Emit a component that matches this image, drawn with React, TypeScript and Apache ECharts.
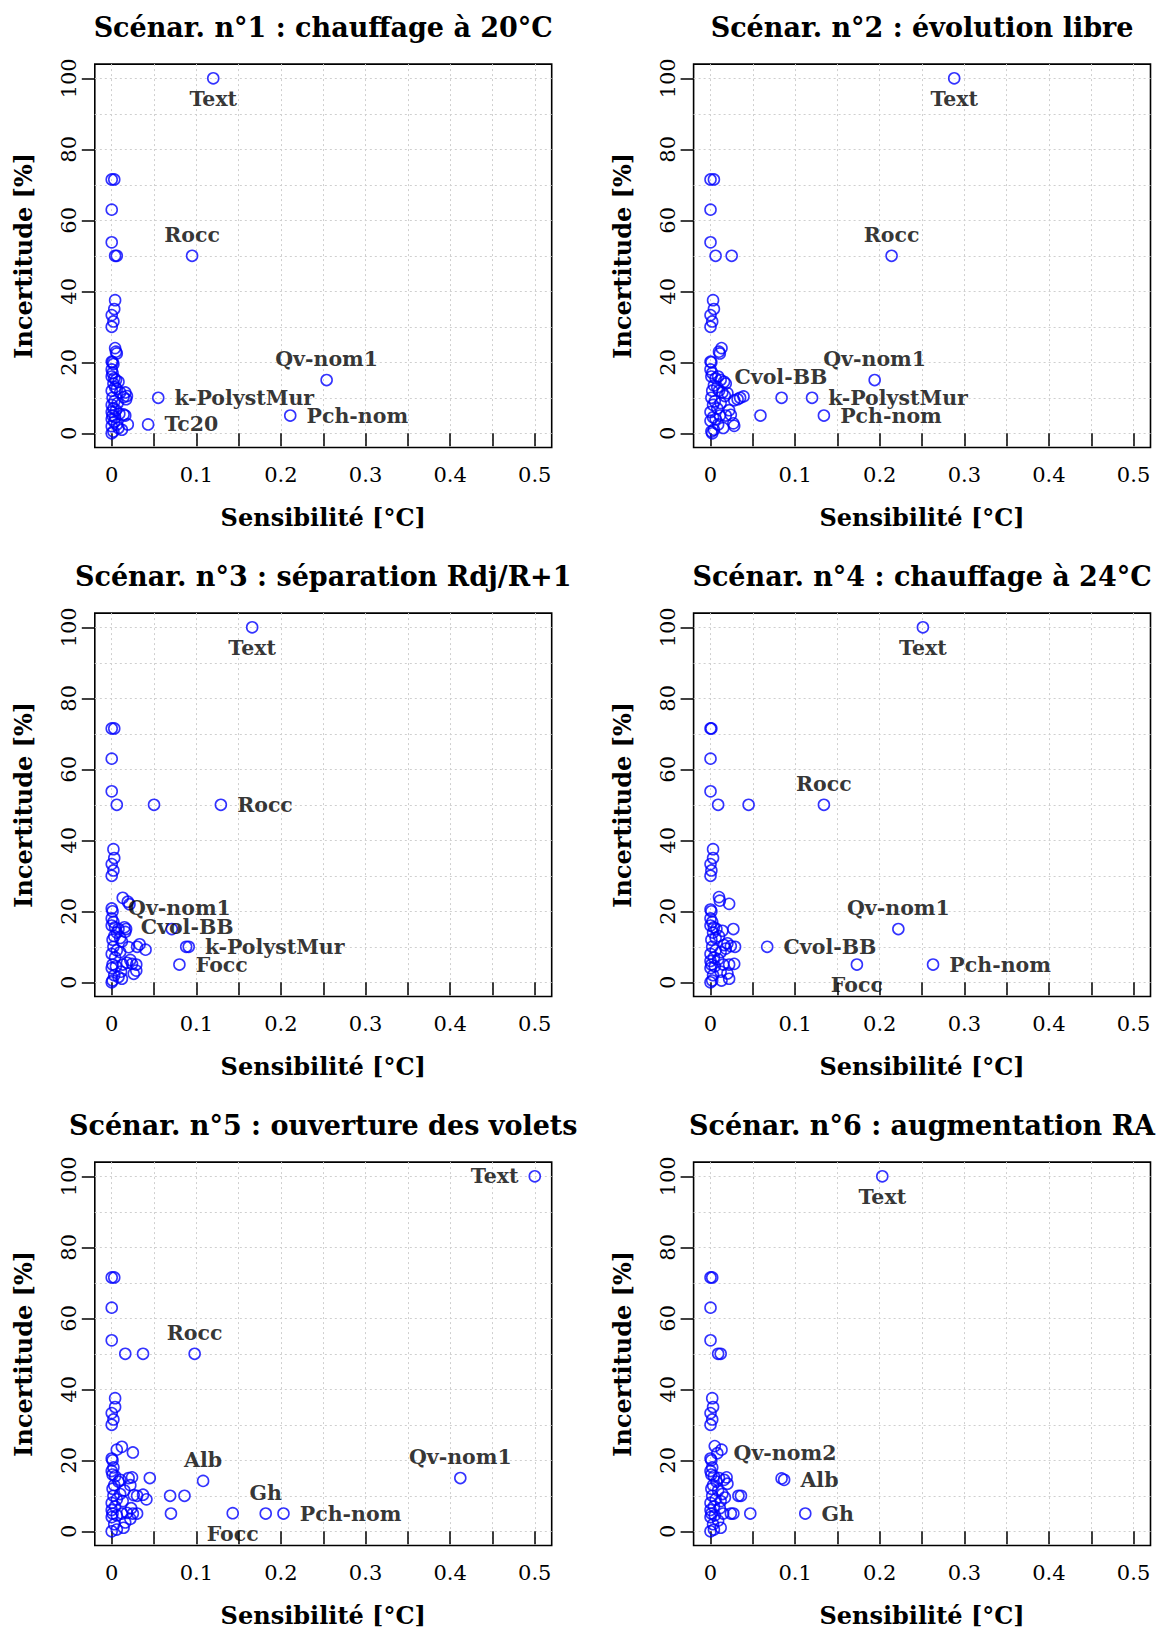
import React, { useEffect, useRef } from "react";
import * as echarts from "echarts";

// ---------- texts ----------
const titles = [
  "Scénar. n°1 : chauffage à 20°C",
  "Scénar. n°2 : évolution libre",
  "Scénar. n°3 : séparation Rdj/R+1",
  "Scénar. n°4 : chauffage à 24°C",
  "Scénar. n°5 : ouverture des volets",
  "Scénar. n°6 : augmentation RA",
];
const xAxisTitle = "Sensibilité [°C]";
const yAxisTitle = "Incertitude [%]";

// ---------- ticks ----------
const xTickValues = [0, 0.05, 0.1, 0.15, 0.2, 0.25, 0.3, 0.35, 0.4, 0.45, 0.5];
const xLabelValues = [0, 0.1, 0.2, 0.3, 0.4, 0.5];
const yTickValues = [0, 20, 40, 60, 80, 100];
const yGridValues = [0, 10, 20, 30, 40, 50, 60, 70, 80, 90, 100];

// ---------- data (sensibilité, incertitude) ----------
const s1Points: [number, number][] = [
  [0.0, 71.5], [0.003, 71.5], [0.0, 63], [0.0, 53.8], [0.004, 50], [0.006, 50],
  [0.004, 37.5], [0.003, 35], [0.0, 33.3], [0.002, 31.5], [0.0, 30],
  [0.004, 24], [0.005, 23], [0.006, 22.5],
  [0.0, 20.2], [0.001, 20], [0.002, 19.5], [0.0, 18], [0.001, 17], [0.0, 16],
  [0.003, 15.5], [0.005, 15], [0.008, 14.5], [0.002, 14], [0.004, 13], [0.006, 12.5],
  [0.0, 12], [0.01, 11.5], [0.016, 11.5], [0.018, 10.5], [0.014, 10.2], [0.017, 9.6],
  [0.001, 10], [0.003, 9], [0.007, 8.5], [0.0, 8], [0.002, 7], [0.005, 6.5], [0.0, 6],
  [0.009, 5.5], [0.014, 5.3], [0.016, 5], [0.001, 5], [0.004, 4.5], [0.0, 4],
  [0.003, 3.2], [0.006, 2.5], [0.019, 2.5], [0.0, 2], [0.008, 1.5], [0.012, 1],
  [0.002, 0.5], [0.0, 0],
];
const s1Names = ["Text", "Rocc", "Qv-nom1", "k-PolystMur", "Pch-nom", "Tc20"];
const s1NamedX = [0.12, 0.095, 0.254, 0.055, 0.211, 0.043];
const s1NamedY = [100, 50, 15, 10, 5, 2.5];
const s1LabelPos = ["bottom", "top", "top", "right", "right", "right"];

const s2Points: [number, number][] = [
  [0.0, 71.5], [0.004, 71.5], [0.0, 63], [0.0, 53.8], [0.006, 50], [0.025, 50],
  [0.003, 37.5], [0.004, 35], [0.0, 33.3], [0.002, 31.5], [0.0, 30],
  [0.013, 24], [0.01, 23], [0.011, 22.5],
  [0.0, 20.2], [0.001, 20], [0.0, 18], [0.002, 17], [0.001, 16], [0.006, 15.5],
  [0.012, 15], [0.016, 14.5], [0.018, 14], [0.004, 13.5], [0.008, 13], [0.01, 12],
  [0.002, 12], [0.014, 11.5], [0.02, 11.3], [0.017, 10.5], [0.039, 10.4], [0.035, 10],
  [0.032, 9.6], [0.028, 9.3], [0.001, 10], [0.005, 9], [0.012, 8.5], [0.003, 8],
  [0.008, 7], [0.022, 6.5], [0.0, 6], [0.024, 5.2], [0.018, 5], [0.011, 5],
  [0.003, 4.5], [0.006, 4], [0.0, 3.5], [0.027, 2.8], [0.028, 2.1], [0.009, 2.5],
  [0.015, 1.5], [0.004, 1], [0.001, 0.5], [0.002, 0],
  [0.084, 10], [0.059, 5],
];
const s2Names = ["Text", "Rocc", "Qv-nom1", "Cvol-BB", "k-PolystMur", "Pch-nom"];
const s2NamedX = [0.288, 0.214, 0.194, 0.009, 0.12, 0.134];
const s2NamedY = [100, 50, 15, 16, 10, 5];
const s2LabelPos = ["bottom", "top", "top", "right", "right", "right"];

const s3Points: [number, number][] = [
  [0.0, 71.5], [0.003, 71.5], [0.0, 63], [0.0, 53.8], [0.006, 50], [0.05, 50],
  [0.002, 37.5], [0.003, 35], [0.0, 33.3], [0.002, 31.5], [0.0, 30],
  [0.013, 23.8], [0.019, 22.7], [0.021, 22],
  [0.001, 20], [0.0, 18], [0.002, 17], [0.0, 16], [0.004, 15.5],
  [0.008, 15], [0.017, 15], [0.016, 14.2], [0.006, 14], [0.003, 13], [0.01, 12.5],
  [0.001, 12], [0.012, 11.5], [0.02, 9.9], [0.033, 10.7], [0.03, 10], [0.04, 9.2],
  [0.002, 10], [0.006, 9], [0.01, 8.5], [0.0, 8], [0.004, 7], [0.022, 6.3],
  [0.018, 5.5], [0.024, 5.2], [0.013, 5], [0.029, 5], [0.001, 5], [0.005, 4.5],
  [0.0, 4], [0.029, 3.3], [0.026, 2.4], [0.011, 3], [0.003, 2], [0.008, 1.5],
  [0.012, 1], [0.001, 0.5], [0.0, 0],
  [0.071, 15], [0.088, 10],
];
const s3Names = ["Text", "Rocc", "Qv-nom1", "Cvol-BB", "k-PolystMur", "Focc"];
const s3NamedX = [0.166, 0.129, 0.0, 0.015, 0.091, 0.08];
const s3NamedY = [100, 50, 20.8, 15.5, 10, 5];
const s3LabelPos = ["bottom", "right", "right", "right", "right", "right"];

const s4Points: [number, number][] = [
  [0.0, 71.5], [0.001, 71.5], [0.0, 63], [0.0, 53.8], [0.009, 50], [0.045, 50],
  [0.003, 37.5], [0.003, 35], [0.0, 33.3], [0.001, 31.5], [0.0, 30],
  [0.01, 24], [0.011, 23], [0.022, 22.1],
  [0.0, 20.5], [0.001, 20], [0.0, 18], [0.002, 17], [0.0, 16], [0.004, 15.5],
  [0.007, 15], [0.014, 14.5], [0.027, 15], [0.003, 14], [0.01, 13], [0.001, 12],
  [0.006, 12.5], [0.02, 11], [0.016, 10.5], [0.029, 10], [0.024, 10.2], [0.018, 9.5],
  [0.002, 10], [0.006, 9], [0.012, 8.5], [0.0, 8], [0.004, 7], [0.009, 6.5], [0.0, 6],
  [0.028, 5.2], [0.022, 5], [0.015, 5], [0.001, 5], [0.005, 4.5], [0.0, 4],
  [0.012, 3], [0.02, 2.5], [0.003, 2], [0.022, 1], [0.013, 0.5], [0.002, 0.5], [0.0, 0],
];
const s4Names = ["Text", "Rocc", "Qv-nom1", "Cvol-BB", "Focc", "Pch-nom"];
const s4NamedX = [0.251, 0.134, 0.222, 0.067, 0.173, 0.263];
const s4NamedY = [100, 50, 15, 10, 5, 5];
const s4LabelPos = ["bottom", "top", "top", "right", "bottom", "right"];

const s5Points: [number, number][] = [
  [0.0, 71.5], [0.003, 71.5], [0.0, 63], [0.0, 53.8], [0.016, 50], [0.037, 50],
  [0.004, 37.5], [0.004, 35], [0.0, 33.3], [0.002, 31.5], [0.0, 30],
  [0.012, 23.8], [0.006, 23], [0.025, 22.2],
  [0.0, 20.5], [0.001, 20], [0.002, 18], [0.0, 17], [0.001, 16], [0.004, 15.5],
  [0.01, 14.5], [0.02, 15], [0.024, 15.2], [0.045, 15], [0.008, 14], [0.003, 13],
  [0.022, 13], [0.001, 12], [0.015, 11.5], [0.01, 10.5], [0.026, 10.2], [0.03, 10],
  [0.037, 10.3], [0.041, 9], [0.002, 10], [0.006, 9], [0.013, 8.5], [0.0, 8],
  [0.004, 7], [0.023, 6.5], [0.0, 6], [0.018, 5.2], [0.03, 5], [0.025, 5], [0.012, 5],
  [0.001, 5], [0.006, 4.5], [0.0, 4], [0.022, 3.5], [0.016, 2.5], [0.003, 2],
  [0.014, 1], [0.006, 0.5], [0.0, 0],
  [0.069, 10], [0.086, 10], [0.07, 5],
];
const s5Names = ["Text", "Rocc", "Qv-nom1", "Alb", "Gh", "Pch-nom", "Focc"];
const s5NamedX = [0.5, 0.098, 0.412, 0.108, 0.182, 0.203, 0.143];
const s5NamedY = [100, 50, 15, 14.2, 5, 5, 5.1];
const s5LabelPos = ["left", "top", "top", "top", "top", "right", "bottom"];

const s6Points: [number, number][] = [
  [0.0, 71.5], [0.002, 71.5], [0.0, 63], [0.0, 53.8], [0.009, 50], [0.012, 50],
  [0.002, 37.5], [0.003, 35], [0.0, 33.3], [0.002, 31.5], [0.0, 30],
  [0.005, 24], [0.013, 23],
  [0.0, 20.5], [0.001, 20], [0.002, 18], [0.0, 17], [0.001, 16], [0.004, 15.5],
  [0.01, 15], [0.019, 15.2], [0.016, 14.5], [0.007, 14], [0.02, 13.4], [0.003, 13],
  [0.001, 12], [0.009, 11.5], [0.014, 10.5], [0.033, 10], [0.036, 10], [0.017, 9.5],
  [0.002, 10], [0.006, 9], [0.012, 8.5], [0.0, 8], [0.004, 7], [0.011, 6.5], [0.0, 6],
  [0.027, 5], [0.024, 5], [0.047, 5], [0.015, 5], [0.001, 5], [0.005, 4.5], [0.0, 4],
  [0.009, 3], [0.003, 2], [0.012, 1], [0.004, 0.5], [0.0, 0],
  [0.084, 14.9],
];
const s6Names = ["Text", "Qv-nom2", "Alb", "Gh"];
const s6NamedX = [0.203, 0.008, 0.087, 0.112];
const s6NamedY = [100, 22, 14.5, 5];
const s6LabelPos = ["bottom", "right", "right", "right"];

const panels = [
  { pts: s1Points, names: s1Names, nx: s1NamedX, ny: s1NamedY, pos: s1LabelPos },
  { pts: s2Points, names: s2Names, nx: s2NamedX, ny: s2NamedY, pos: s2LabelPos },
  { pts: s3Points, names: s3Names, nx: s3NamedX, ny: s3NamedY, pos: s3LabelPos },
  { pts: s4Points, names: s4Names, nx: s4NamedX, ny: s4NamedY, pos: s4LabelPos },
  { pts: s5Points, names: s5Names, nx: s5NamedX, ny: s5NamedY, pos: s5LabelPos },
  { pts: s6Points, names: s6Names, nx: s6NamedX, ny: s6NamedY, pos: s6LabelPos },
];

// ---------- layout ----------
const COL_LEFT = [94.8, 693.6];
const ROW_TOP = [64.1, 613.1, 1162.1];
const GW = 456.9;
const GH = 383.4;
const FONT = '"DejaVu Serif", "Liberation Serif", serif';
const BLUE = "#0000ff";

function buildOption() {
  const grid: any[] = [];
  const xAxis: any[] = [];
  const yAxis: any[] = [];
  const series: any[] = [];
  const graphic: any[] = [];

  panels.forEach((p, i) => {
    const col = i % 2;
    const row = Math.floor(i / 2);
    const left = COL_LEFT[col];
    const top = ROW_TOP[row];
    grid.push({
      left, top, width: GW, height: GH,
      show: true, borderColor: "#000", borderWidth: 1.6, backgroundColor: "transparent",
      containLabel: false,
    });
    xAxis.push({
      type: "value", gridIndex: i, min: -0.02, max: 0.52, position: "bottom",
      axisLine: { show: false },
      axisTick: { show: true, customValues: xTickValues, length: 13, lineStyle: { color: "#000", width: 1.5 } },
      axisLabel: {
        customValues: xLabelValues, color: "#000", fontFamily: FONT, fontSize: 21, margin: 17,
        formatter: (v: number) => String(v),
      },
      splitLine: { show: true, lineStyle: { color: "#cfcfcf", width: 1, type: [2, 3] } },
    });
    yAxis.push({
      type: "value", gridIndex: i, min: -4, max: 104, position: "left",
      axisLine: { show: false },
      axisTick: { show: false, customValues: yGridValues },
      axisLabel: { show: false },
      splitLine: { show: true, lineStyle: { color: "#cfcfcf", width: 1, type: [2, 3] } },
    });
    yAxis.push({
      type: "value", gridIndex: i, min: -4, max: 104, position: "left", offset: 0,
      axisLine: { show: false },
      axisTick: { show: true, customValues: yTickValues, length: 13, lineStyle: { color: "#000", width: 1.5 } },
      axisLabel: {
        customValues: yTickValues, rotate: 90, color: "#000", fontFamily: FONT, fontSize: 21, margin: 15,
      },
      splitLine: { show: false },
    });

    series.push({
      type: "scatter", xAxisIndex: i, yAxisIndex: 2 * i, silent: true, z: 3,
      symbol: "circle", symbolSize: 11,
      itemStyle: { color: "transparent", borderColor: BLUE, borderWidth: 1.6 },
      data: p.pts,
    });
    series.push({
      type: "scatter", xAxisIndex: i, yAxisIndex: 2 * i, silent: true, z: 4,
      symbol: "circle", symbolSize: 11,
      itemStyle: { color: "transparent", borderColor: BLUE, borderWidth: 1.6 },
      data: p.names.map((n, k) => ({
        value: [p.nx[k], p.ny[k]],
        name: n,
        label: {
          show: true, position: p.pos[k],
          distance: p.pos[k] === "right" || p.pos[k] === "left" ? 10 : 4,
          formatter: n, color: "#000", fontFamily: FONT, fontWeight: "bold", fontSize: 20.5,
        },
      })),
    });

    const cx = left + GW / 2;
    graphic.push({
      type: "text", x: cx, y: 27 + row * 549,
      style: {
        text: titles[i], fill: "#000", font: `bold 27px ${FONT}`,
        textAlign: "center", textVerticalAlign: "middle", align: "center", verticalAlign: "middle",
      },
    });
    graphic.push({
      type: "text", x: cx, y: 517 + row * 549,
      style: {
        text: xAxisTitle, fill: "#000", font: `bold 24px ${FONT}`,
        textAlign: "center", textVerticalAlign: "middle", align: "center", verticalAlign: "middle",
      },
    });
    graphic.push({
      type: "text", x: left - 71, y: top + GH / 2, rotation: Math.PI / 2,
      style: {
        text: yAxisTitle, fill: "#000", font: `bold 24px ${FONT}`,
        textAlign: "center", textVerticalAlign: "middle", align: "center", verticalAlign: "middle",
      },
    });
  });

  return {
    animation: false,
    backgroundColor: "#ffffff",
    grid, xAxis, yAxis, series, graphic,
  };
}

export default function App() {
  const ref = useRef<HTMLDivElement>(null);
  useEffect(() => {
    if (!ref.current) return;
    const chart = echarts.init(ref.current, undefined, { renderer: "svg" });
    chart.setOption(buildOption() as any);
    return () => chart.dispose();
  }, []);
  return (
    <div
      ref={ref}
      style={{ position: "absolute", left: 0, top: 0, width: 1156, height: 1635, background: "#fff" }}
    />
  );
}
